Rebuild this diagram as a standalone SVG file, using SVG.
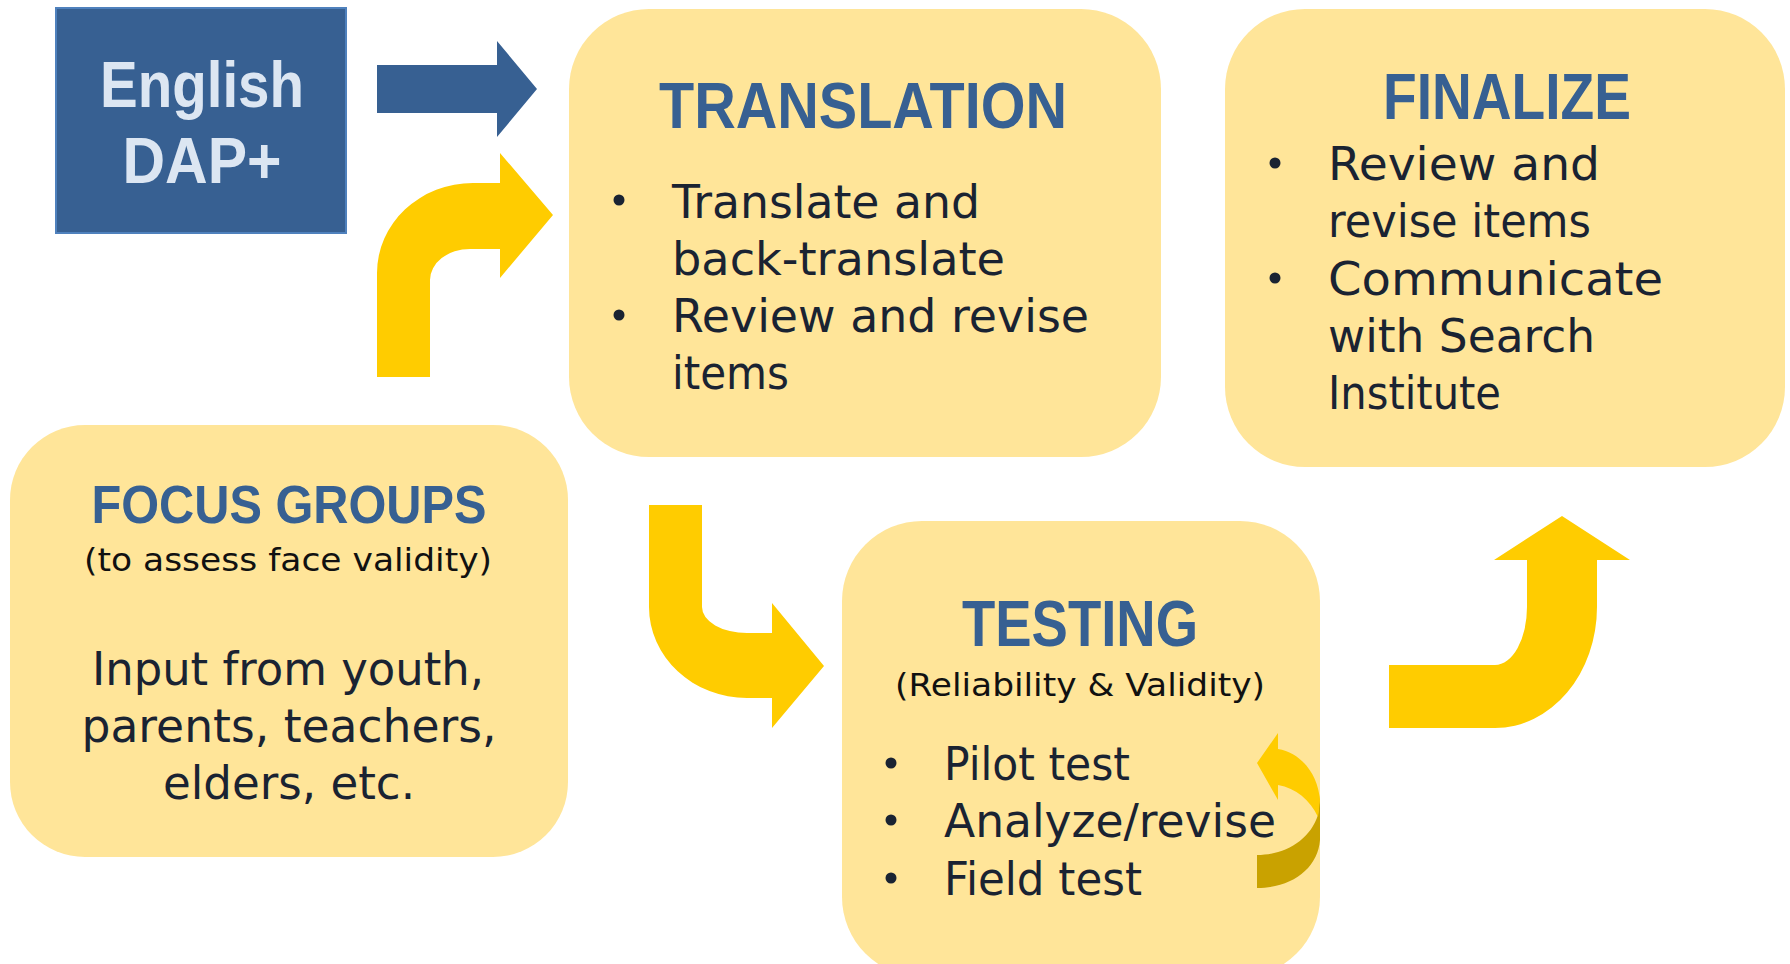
<svg xmlns="http://www.w3.org/2000/svg" width="1790" height="964" viewBox="0 0 1790 964">
  <style>
    .box { fill: #FFE599; }
    .arrow { fill: #FFCC00; }
    .arrow-dark { fill: #C9A200; }
    .blue-arrow { fill: #376092; }
    .head { font-family: "Liberation Sans", "DejaVu Sans", sans-serif; font-weight: bold; fill: #376092; }
    .src { font-family: "Liberation Sans", "DejaVu Sans", sans-serif; font-weight: bold; fill: #DCE6F2; font-size: 64px; }
    .body { font-family: "DejaVu Sans", "Liberation Sans", sans-serif; fill: #1A2332; font-size: 47px; }
    .sub { font-family: "DejaVu Sans", "Liberation Sans", sans-serif; fill: #111111; font-size: 32px; }
    .bullet { fill: #1A2332; }
  </style>
  <rect width="1790" height="964" fill="#FFFFFF"/>

  <!-- connectors -->
  <g id="connectors">
    <!-- English DAP+ into translation -->
    <polygon class="blue-arrow" points="377,65 497,65 497,41 537,89 497,137 497,113 377,113"/>
    <!-- focus groups up into translation -->
    <path class="arrow" d="M377,377 V273 A96,90 0 0 1 473,183 H500 V153 L553,215 L500,278 V249 H470 A40,31 0 0 0 430,280 V377 Z"/>
    <!-- translation down into testing -->
    <path class="arrow" d="M649,505 H702 V607 A45,26 0 0 0 747,633 H772 V603 L824,666 L772,728 V698 H747 A98,91 0 0 1 649,607 Z"/>
    <!-- testing up into finalize -->
    <path class="arrow" d="M1389,665 H1495 A32,58 0 0 0 1527,607 V560 H1494 L1562,516 L1630,560 H1597 V607 A102,121 0 0 1 1495,728 H1389 Z"/>
  </g>

  <!-- source instrument -->
  <g id="english-dap">
    <rect x="56" y="8" width="290" height="225" fill="#376092" stroke="#4F81BD" stroke-width="2"/>
    <text class="src" x="202" y="107" text-anchor="middle" textLength="204" lengthAdjust="spacingAndGlyphs">English</text>
    <text class="src" x="202" y="183" text-anchor="middle" textLength="159" lengthAdjust="spacingAndGlyphs">DAP+</text>
  </g>

  <!-- translation step -->
  <g id="translation">
    <rect class="box" x="569" y="9" width="592" height="448" rx="80" ry="80"/>
    <text class="head" x="863" y="128" font-size="64" text-anchor="middle" textLength="408" lengthAdjust="spacingAndGlyphs">TRANSLATION</text>
    <circle class="bullet" cx="619" cy="200" r="5.5"/>
    <circle class="bullet" cx="619" cy="315" r="5.5"/>
    <text class="body" x="672" y="218" textLength="308" lengthAdjust="spacingAndGlyphs">Translate and</text>
    <text class="body" x="672" y="275" textLength="333" lengthAdjust="spacingAndGlyphs">back-translate</text>
    <text class="body" x="672" y="332" textLength="417" lengthAdjust="spacingAndGlyphs">Review and revise</text>
    <text class="body" x="672" y="389" textLength="117" lengthAdjust="spacingAndGlyphs">items</text>
  </g>

  <!-- finalize step -->
  <g id="finalize">
    <rect class="box" x="1225" y="9" width="560" height="458" rx="80" ry="80"/>
    <text class="head" x="1507" y="119" font-size="65" text-anchor="middle" textLength="248" lengthAdjust="spacingAndGlyphs">FINALIZE</text>
    <circle class="bullet" cx="1275" cy="163" r="5.5"/>
    <circle class="bullet" cx="1275" cy="278" r="5.5"/>
    <text class="body" x="1328" y="180" textLength="272" lengthAdjust="spacingAndGlyphs">Review and</text>
    <text class="body" x="1328" y="237" textLength="263" lengthAdjust="spacingAndGlyphs">revise items</text>
    <text class="body" x="1328" y="295" textLength="335" lengthAdjust="spacingAndGlyphs">Communicate</text>
    <text class="body" x="1328" y="352" textLength="267" lengthAdjust="spacingAndGlyphs">with Search</text>
    <text class="body" x="1328" y="409" textLength="173" lengthAdjust="spacingAndGlyphs">Institute</text>
  </g>

  <!-- focus groups step -->
  <g id="focus-groups">
    <rect class="box" x="10" y="425" width="558" height="432" rx="75" ry="75"/>
    <text class="head" x="289" y="523" font-size="53" text-anchor="middle" textLength="395" lengthAdjust="spacingAndGlyphs">FOCUS GROUPS</text>
    <text class="sub" x="288" y="571" text-anchor="middle" textLength="408" lengthAdjust="spacingAndGlyphs">(to assess face validity)</text>
    <text class="body" x="288" y="685" font-size="46" text-anchor="middle" textLength="392" lengthAdjust="spacingAndGlyphs">Input from youth,</text>
    <text class="body" x="289" y="742" font-size="46" text-anchor="middle" textLength="415" lengthAdjust="spacingAndGlyphs">parents, teachers,</text>
    <text class="body" x="289" y="799" font-size="46" text-anchor="middle" textLength="252" lengthAdjust="spacingAndGlyphs">elders, etc.</text>
  </g>

  <!-- testing step -->
  <g id="testing">
    <rect class="box" x="842" y="521" width="478" height="456" rx="80" ry="80"/>
    <text class="head" x="1080" y="646" font-size="64" text-anchor="middle" textLength="236" lengthAdjust="spacingAndGlyphs">TESTING</text>
    <text class="sub" x="1080" y="696" font-size="33" text-anchor="middle" textLength="370" lengthAdjust="spacingAndGlyphs">(Reliability &amp; Validity)</text>
    <circle class="bullet" cx="891" cy="763" r="5.5"/>
    <circle class="bullet" cx="891" cy="820" r="5.5"/>
    <circle class="bullet" cx="891" cy="878" r="5.5"/>
    <text class="body" x="944" y="780" textLength="186" lengthAdjust="spacingAndGlyphs">Pilot test</text>
    <text class="body" x="944" y="837" textLength="332" lengthAdjust="spacingAndGlyphs">Analyze/revise</text>
    <text class="body" x="944" y="895" textLength="198" lengthAdjust="spacingAndGlyphs">Field test</text>
    <!-- iteration loop arrow -->
    <path class="arrow-dark" d="M1320,795 V840 C1318,868 1292,888 1257,888 V855 C1285,855 1310,840 1318,815 Z"/>
    <path class="arrow" d="M1257,763 L1278,733 V749 C1302,753 1318,775 1320,800 L1318,817 C1310,800 1296,788 1278,785 V800 Z"/>
  </g>
</svg>
